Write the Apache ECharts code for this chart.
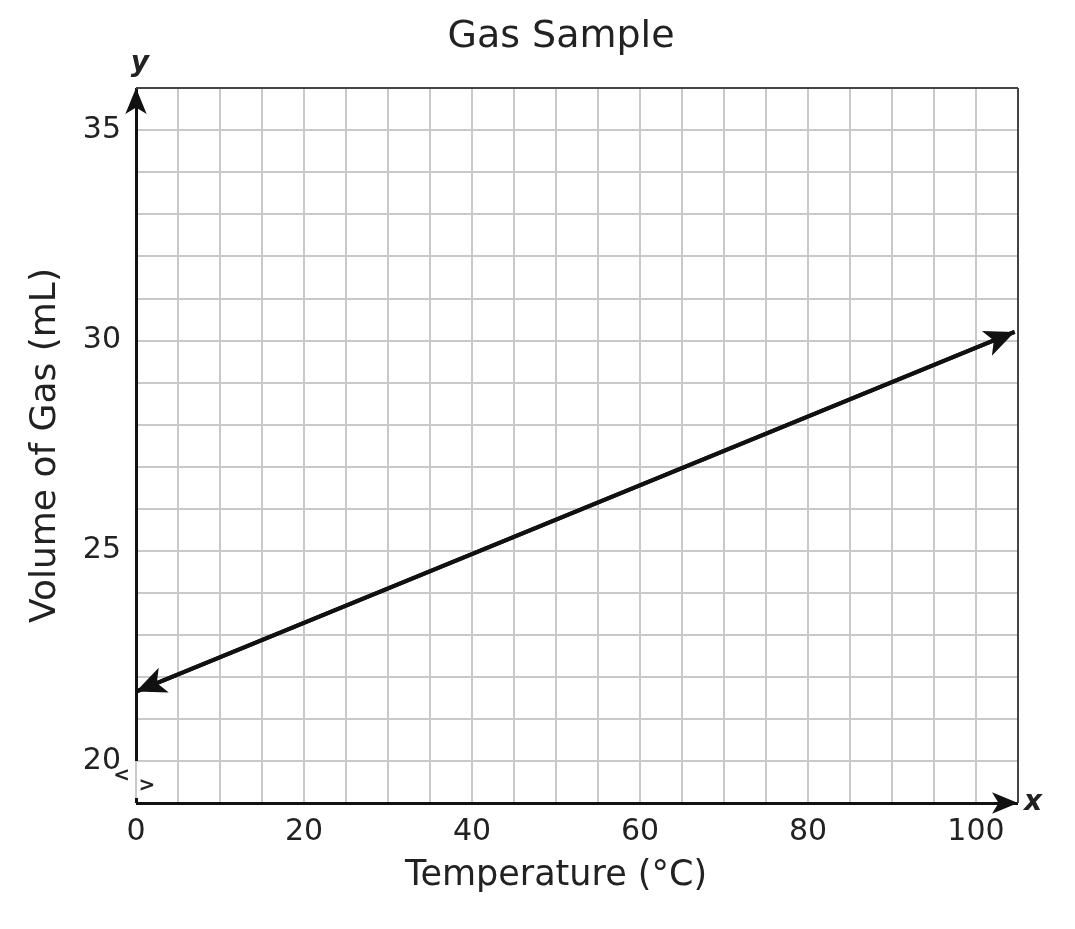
<!DOCTYPE html>
<html>
<head>
<meta charset="utf-8" />
<title>Gas Sample</title>
<script type="text/javascript" src="https://cdn.jsdelivr.net/npm/echarts@6/dist/echarts.min.js"></script>
<style>
  html, body { margin: 0; padding: 0; background: #fff; }
  #chart { width: 1075px; height: 929px; }
</style>
</head>
<body>
<div id="chart"></div>
<script type="text/javascript">
// line: arrow tips at both ends
var temps = [0, 104.6];
var volumes = [21.65, 30.2];

// axis ranges and labelled ticks
var xRange = [0, 105];
var yRange = [19, 36];
var xTicks = [0, 20, 40, 60, 80, 100];
var yTicks = [20, 25, 30, 35];

var FONT = 'DejaVu Sans';
var INK = '#111';

var chart = echarts.init(document.getElementById('chart'));

var pts = temps.map(function (t, i) { return [t, volumes[i]]; });

function seg(a, b, style, label) {
    var s = { coord: a, lineStyle: style, symbol: 'none', label: { show: false } };
    var e = { coord: b, symbol: 'none' };
    if (label) {
        s.label = label;
        e.symbol = 'arrow';
        e.symbolSize = [16, 26];
    }
    return [s, e];
}

var axisStyle = { color: INK, width: 3, type: 'solid' };
var frameStyle = { color: '#444', width: 2, type: 'solid' };
var nameLbl = { fontFamily: FONT, fontSize: 28, fontWeight: 'bold', fontStyle: 'italic', color: '#222' };

chart.setOption({
    animation: false,
    title: {
        text: 'Gas Sample',
        left: 556,
        textAlign: 'center',
        top: 13,
        textStyle: { fontFamily: FONT, fontSize: 38, fontWeight: 'normal', color: '#222' }
    },
    grid: { left: 136, right: 57, top: 88, bottom: 126, outerBoundsMode: 'none' },
    xAxis: {
        type: 'value',
        min: xRange[0], max: xRange[1], interval: 5,
        name: 'Temperature (°C)',
        nameLocation: 'middle',
        nameGap: 55,
        nameTextStyle: { fontFamily: FONT, fontSize: 35, color: '#222', padding: [0, 42, 0, 0] },
        axisLine: { show: false },
        axisTick: { show: false },
        axisLabel: {
            fontFamily: FONT, fontSize: 30, color: '#222', margin: 14,
            formatter: function (v) { return xTicks.indexOf(v) >= 0 ? String(v) : ''; }
        },
        splitLine: { show: true, lineStyle: { color: '#c9c9cc', width: 2 } }
    },
    yAxis: {
        type: 'value',
        min: yRange[0], max: yRange[1], interval: 1,
        name: 'Volume of Gas (mL)',
        nameLocation: 'middle',
        nameGap: 72,
        nameTextStyle: { fontFamily: FONT, fontSize: 36, color: '#222' },
        axisLine: { show: false },
        axisTick: { show: false },
        axisLabel: {
            fontFamily: FONT, fontSize: 30, color: '#222', margin: 15,
            formatter: function (v) { return yTicks.indexOf(v) >= 0 ? String(v) : ''; }
        },
        splitLine: { show: true, lineStyle: { color: '#c9c9cc', width: 2 } }
    },
    series: [{
        type: 'line',
        name: 'Volume',
        data: pts,
        symbol: 'none',
        lineStyle: { color: INK, width: 4 },
        silent: true,
        z: 5,
        markLine: {
            silent: true,
            animation: false,
            symbol: 'none',
            lineStyle: { color: INK, width: 4, type: 'solid' },
            label: { show: false },
            data: [[
                { coord: pts[0], symbol: 'arrow', symbolSize: [20, 30] },
                { coord: pts[1], symbol: 'arrow', symbolSize: [20, 30] }
            ]]
        }
    }, {
        type: 'line',
        name: 'frame',
        data: [],
        silent: true,
        z: 4,
        markLine: {
            silent: true,
            animation: false,
            symbol: 'none',
            label: { show: false },
            data: [
                // y axis, broken just below 20
                seg([0, 20], [0, yRange[1]], axisStyle,
                    Object.assign({ show: true, position: 'end', formatter: 'y', distance: 10, offset: [4, 0] }, nameLbl)),
                seg([0, yRange[0]], [0, 19.12], axisStyle),
                // x axis
                seg([0, yRange[0]], [xRange[1], yRange[0]], axisStyle,
                    Object.assign({ show: true, position: 'end', formatter: 'x', distance: 6 }, nameLbl)),
                // top and right border
                seg([0, yRange[1]], [xRange[1], yRange[1]], frameStyle),
                seg([xRange[1], yRange[0]], [xRange[1], yRange[1]], frameStyle)
            ]
        }
    }]
});

// small break marks on the y axis between 19 and 20
var pL = chart.convertToPixel({ gridIndex: 0 }, [-1.7, 19.64]);
var pR = chart.convertToPixel({ gridIndex: 0 }, [1.3, 19.4]);
chart.setOption({
    graphic: [
        { type: 'text', x: pL[0], y: pL[1], style: { text: '<', fontFamily: FONT, fontSize: 20, fontWeight: 'bold', fill: '#222', align: 'center', verticalAlign: 'middle' } },
        { type: 'text', x: pR[0], y: pR[1], style: { text: '>', fontFamily: FONT, fontSize: 20, fontWeight: 'bold', fill: '#222', align: 'center', verticalAlign: 'middle' } }
    ]
});
</script>
</body>
</html>
